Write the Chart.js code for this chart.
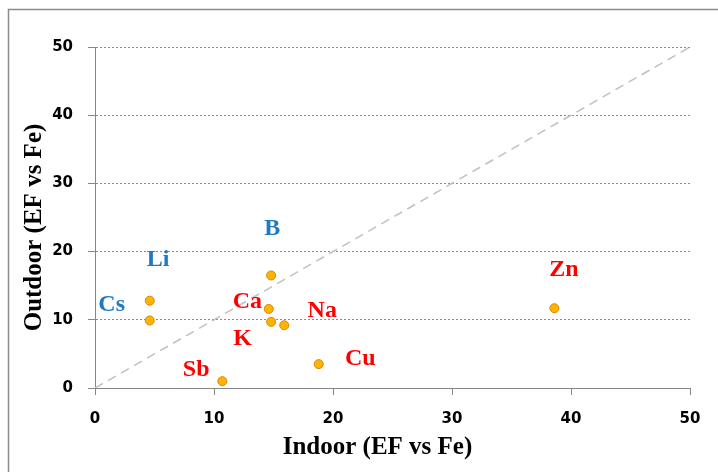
<!DOCTYPE html>
<html>
<head>
<meta charset="utf-8">
<script src="https://cdn.jsdelivr.net/npm/chart.js@4/dist/chart.umd.min.js"></script>
<style>
  html, body { margin: 0; padding: 0; background: #fff; }
  #c { display: block; }
</style>
</head>
<body>
<canvas id="c" width="718" height="472"></canvas>
<script>
// ---- data ----
const indoor  = [4.6, 4.6, 14.8, 14.6, 14.8, 15.9, 18.8, 10.7, 38.6];
const outdoor = [12.8, 9.9, 16.5, 11.6, 9.7, 9.2, 3.5, 1.0, 11.7];

const elementNames = ['Li', 'Cs', 'B', 'Ca', 'Na', 'K', 'Sb', 'Cu', 'Zn'];
const elementGroup = ['blue', 'blue', 'blue', 'red', 'red', 'red', 'red', 'red', 'red'];
const labelAtX = [5.3, 1.4, 14.9, 12.8, 19.1, 12.4, 8.5, 22.3, 39.4];
const labelAtY = [19.1, 12.5, 23.6, 12.9, 11.6, 7.5, 3.0, 4.6, 17.6];

const oneToOne = [0, 50];
const xTitle = 'Indoor (EF vs Fe)';
const yTitle = 'Outdoor (EF vs Fe)';

// ---- styles ----
const groupColors = { blue: '#1f7ac4', red: '#ff0000' };
const axisGray = '#868686';

const scatterPts = indoor.map((v, i) => ({ x: v, y: outdoor[i] }));
const linePts = oneToOne.map(v => ({ x: v, y: v }));

const decorPlugin = {
  id: 'decor',
  beforeDraw(chart) {
    const ctx = chart.ctx;
    ctx.save();
    ctx.fillStyle = '#fff';
    ctx.fillRect(0, 0, chart.width, chart.height);
    ctx.strokeStyle = '#8c8c8c';
    ctx.lineWidth = 1.5;
    ctx.strokeRect(8.5, 9.5, chart.width + 20, chart.height + 20);
    ctx.restore();
  },
  afterDraw(chart) {
    const ctx = chart.ctx;
    const xs = chart.scales.x, ys = chart.scales.y;
    const ca = chart.chartArea;
    ctx.save();
    // element labels
    ctx.font = 'bold 24px "Liberation Serif", "Times New Roman", serif';
    ctx.textAlign = 'center';
    ctx.textBaseline = 'alphabetic';
    elementNames.forEach((name, i) => {
      ctx.fillStyle = groupColors[elementGroup[i]];
      const px = xs.getPixelForValue(labelAtX[i]);
      const py = ys.getPixelForValue(labelAtY[i]);
      ctx.fillText(name, px, py + 8);
    });
    // axis titles
    ctx.fillStyle = '#000';
    ctx.font = 'bold 25px "Liberation Serif", "Times New Roman", serif';
    ctx.textAlign = 'center';
    ctx.fillText(xTitle, (ca.left + ca.right) / 2 - 15, 454);
    ctx.translate(41, (ca.top + ca.bottom) / 2 + 10);
    ctx.rotate(-Math.PI / 2);
    ctx.fillText(yTitle, 0, 0);
    ctx.restore();
  }
};

new Chart(document.getElementById('c'), {
  data: {
    datasets: [
      {
        type: 'scatter',
        data: scatterPts,
        backgroundColor: '#ffb400',
        borderColor: '#e08600',
        borderWidth: 1,
        pointRadius: 4.5,
        pointHoverRadius: 4.5,
        order: 1
      },
      {
        type: 'line',
        data: linePts,
        borderColor: '#c0c0c0',
        borderWidth: 1.5,
        borderDash: [9, 6],
        pointRadius: 0,
        fill: false,
        order: 2
      }
    ]
  },
  options: {
    responsive: false,
    animation: false,
    devicePixelRatio: 1,
    layout: { padding: { left: 0, top: 47, right: 28, bottom: 0 } },
    plugins: { legend: { display: false }, tooltip: { enabled: false }, title: { display: false } },
    scales: {
      x: {
        type: 'linear',
        min: 0, max: 50,
        ticks: {
          stepSize: 10,
          color: '#000',
          padding: 15,
          font: { family: '"DejaVu Sans", Verdana, sans-serif', size: 15, weight: 'bold' }
        },
        grid: { drawOnChartArea: false, drawTicks: true, tickLength: 7, tickColor: axisGray },
        border: { color: axisGray, width: 1 },
        afterFit(scale) { scale.height = 84; }
      },
      y: {
        type: 'linear',
        min: 0, max: 50,
        ticks: {
          stepSize: 10,
          color: '#000',
          padding: 15,
          font: { family: '"DejaVu Sans", Verdana, sans-serif', size: 15, weight: 'bold' }
        },
        grid: {
          color: '#8a8a8a',
          tickBorderDash: [],
          tickColor: axisGray,
          tickLength: 7,
          lineWidth: 1
        },
        border: { color: axisGray, width: 1, dash: [2, 2] },
        afterFit(scale) { scale.width = 95; }
      }
    }
  },
  plugins: [decorPlugin]
});
</script>
</body>
</html>
